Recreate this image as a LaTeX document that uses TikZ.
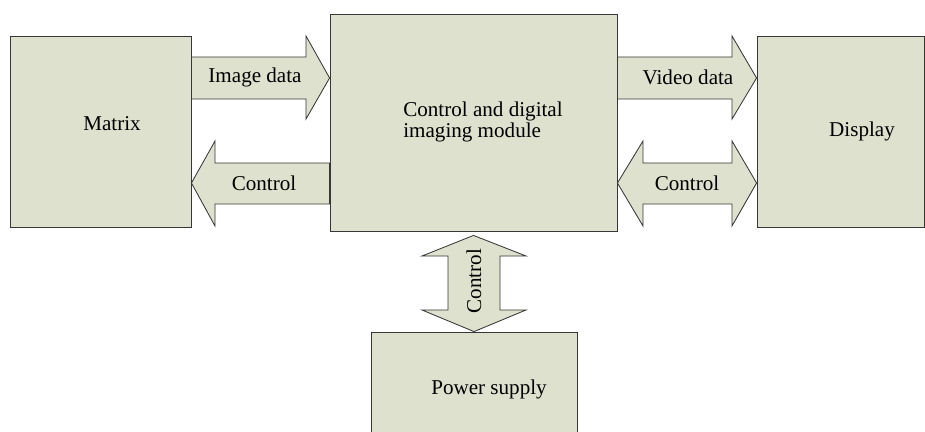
\documentclass[tikz,border=0pt]{standalone}
\usepackage{fontspec}
\setmainfont{Liberation Serif}
\usetikzlibrary{calc, fit}

\definecolor{boxfill}{RGB}{221,225,205}
\definecolor{edgegray}{RGB}{55,55,55}

\begin{document}
\begin{tikzpicture}[
    x=0.025cm, y=-0.025cm,
    every node/.style={font=\fontsize{15}{14.5}\selectfont},
    block/.style={
        rectangle,
        draw=edgegray,
        fill=boxfill,
        line width=0.6pt,
        inner sep=0pt
    },
    fatarrow/.style={draw=edgegray, fill=boxfill, line width=0.6pt, line join=miter}
]

\useasboundingbox (0,0) rectangle (925,432);

\node[block, fit={(10,36) (191,227)}] (matrix) {};
\node[block, fit={(330,14) (617,231)}] (cdim) {};
\node[block, fit={(757,36) (924,227)}] (display) {};
\node[block, fit={(371,332) (577,445)}] (power) {};

\node (matrixtxt) at (112,124) {Matrix};
\node[align=left] (cdimtxt) at (483,122) {Control and digital\\imaging module};
\node (displaytxt) at (862,131) {Display};
\node (powertxt) at (489,389) {Power supply};

% matrix <-> control module
\draw[fatarrow] (matrix.east |- 0,57) -- (306,57) -- (306,36) -- (cdim.west |- 0,78)
    -- (306,119) -- (306,99) -- (matrix.east |- 0,99) -- cycle;
\node (imgdata) at (255,77) {Image data};

\draw[fatarrow] (cdim.west |- 0,163) -- (215,163) -- (215,141) -- (matrix.east |- 0,183)
    -- (215,226) -- (215,204) -- (cdim.west |- 0,204) -- cycle;
\node (ctrlleft) at (264,183) {Control};

% control module <-> display
\draw[fatarrow] (cdim.east |- 0,57) -- (732,57) -- (732,36) -- (display.west |- 0,78)
    -- (732,119) -- (732,99) -- (cdim.east |- 0,99) -- cycle;
\node (viddata) at (688,77) {Video data};

\draw[fatarrow] (cdim.east |- 0,183) -- (643,141) -- (643,163) -- (732,163) -- (732,141)
    -- (display.west |- 0,183) -- (732,226) -- (732,204) -- (643,204) -- (643,226) -- cycle;
\node (ctrlright) at (687,183) {Control};

% control module <-> power supply
\draw[fatarrow] ($(cdim.south)+(0,4)$) -- (526,256) -- (500,256) -- (500,310) -- (526,310)
    -- (power.north -| 474,0) -- (422,310) -- (448,310) -- (448,256) -- (422,256) -- cycle;
\node[rotate=90] (ctrlpower) at (474,281) {Control};

\end{tikzpicture}
\end{document}
